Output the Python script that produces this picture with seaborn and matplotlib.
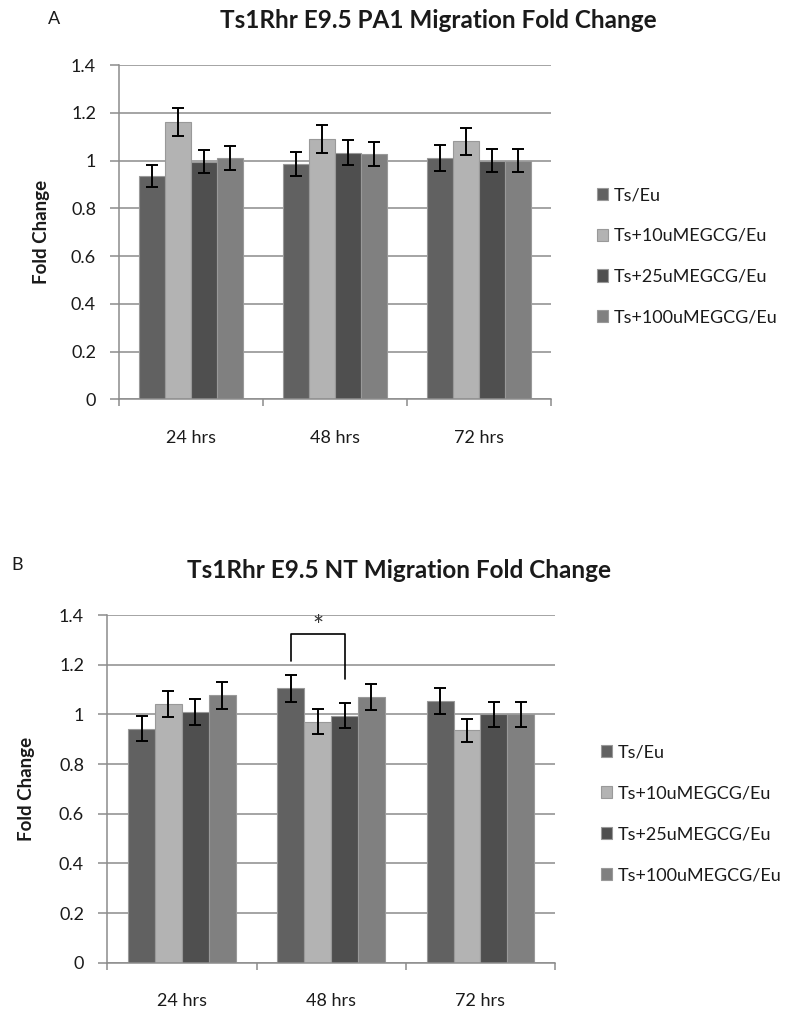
import matplotlib
matplotlib.use('Agg')
import matplotlib.pyplot as plt
import seaborn as sns
import pandas as pd
import numpy as np

# categories
timepoints = ['24 hrs', '48 hrs', '72 hrs']
treatments = ['Ts/Eu', 'Ts+10uMEGCG/Eu', 'Ts+25uMEGCG/Eu', 'Ts+100uMEGCG/Eu']
bar_colors = ['#616161', '#b3b3b3', '#4f4f4f', '#808080']

# panel A - PA1 migration (one list per treatment, values per timepoint)
pa1_ts = [0.935, 0.985, 1.01]
pa1_10 = [1.16, 1.09, 1.08]
pa1_25 = [0.995, 1.032, 1.0]
pa1_100 = [1.01, 1.027, 1.0]
pa1_err_ts = [0.046, 0.05, 0.053]
pa1_err_10 = [0.059, 0.057, 0.056]
pa1_err_25 = [0.049, 0.052, 0.048]
pa1_err_100 = [0.05, 0.052, 0.048]

# panel B - NT migration
nt_ts = [0.942, 1.105, 1.055]
nt_10 = [1.042, 0.971, 0.936]
nt_25 = [1.01, 0.995, 1.0]
nt_100 = [1.076, 1.069, 1.0]
nt_err_ts = [0.05, 0.054, 0.053]
nt_err_10 = [0.053, 0.049, 0.046]
nt_err_25 = [0.053, 0.05, 0.049]
nt_err_100 = [0.056, 0.052, 0.049]

# significance bracket (48 hrs, Ts/Eu vs Ts+25uMEGCG/Eu)
bracket_top = 1.322
bracket_left_end = 1.215
bracket_right_end = 1.143
star_y = 1.35

GRID = '#8c8c8c'
TXT = '#1a1a1a'

sns.set_style('white')
plt.rcParams['font.family'] = ['Lato', 'DejaVu Sans']


def draw_panel(ax, means, errs, leg_anchor):
    df = pd.DataFrame({
        'time': timepoints * len(treatments),
        'group': [g for g in treatments for _ in timepoints],
        'fold': [v for m in means for v in m],
    })
    sns.barplot(data=df, x='time', y='fold', hue='group', hue_order=treatments,
                order=timepoints, palette=bar_colors, errorbar=None,
                width=0.72, gap=0, edgecolor='#999999', linewidth=0.8,
                saturation=1, ax=ax)
    # error bars on the bar centres
    for cont, err in zip(ax.containers, errs):
        xs = [b.get_x() + b.get_width() / 2 for b in cont]
        ys = [b.get_height() for b in cont]
        ax.errorbar(xs, ys, yerr=err, fmt='none', ecolor='black',
                    elinewidth=1.4, capsize=4, capthick=1.4, zorder=5)

    ax.set_xlim(-0.5, 2.5)
    ax.set_ylim(0, 1.4)
    ax.set_yticks(np.arange(0, 1.41, 0.2))
    ax.set_yticklabels([f'{t:g}' for t in np.arange(0, 1.41, 0.2).round(1)])
    ax.grid(axis='y', color=GRID, lw=1.1)
    ax.set_axisbelow(True)
    for s in ['top', 'right']:
        ax.spines[s].set_visible(False)
    for s in ['left', 'bottom']:
        ax.spines[s].set_color(GRID)
        ax.spines[s].set_linewidth(1.1)
    ax.tick_params(axis='y', length=6.2, width=1.1, color=GRID,
                   labelsize=13, pad=10.5, labelcolor=TXT, left=True)
    ax.tick_params(axis='x', which='major', length=0, labelsize=13,
                   pad=22, labelcolor=TXT)
    ax.set_xticks([-0.5, 0.5, 1.5, 2.5], minor=True)
    ax.tick_params(axis='x', which='minor', length=4.8, width=1.1,
                   color=GRID, bottom=True)
    ax.set_xlabel('')
    ax.set_ylabel('Fold Change', fontsize=13.5, fontweight='bold', color=TXT)
    ax.yaxis.set_label_coords(-0.161, 0.5)

    handles, labels = ax.get_legend_handles_labels()
    ax.legend(handles, labels, loc='center left', bbox_to_anchor=leg_anchor,
              frameon=False, fontsize=13, handlelength=0.65, handleheight=0.65,
              handletextpad=0.3, labelspacing=1.38, borderpad=0,
              labelcolor=TXT)


fig = plt.figure(figsize=(7.91, 10.10), dpi=100)
W, H = 791, 1010
axA = fig.add_axes([119.3 / W, 1 - 399.3 / H, (551 - 119.3) / W, (399.3 - 65) / H])
axB = fig.add_axes([107.3 / W, 1 - 962.7 / H, (555 - 107.3) / W, (962.7 - 615) / H])

draw_panel(axA, [pa1_ts, pa1_10, pa1_25, pa1_100],
           [pa1_err_ts, pa1_err_10, pa1_err_25, pa1_err_100], (1.085, 0.4275))
draw_panel(axB, [nt_ts, nt_10, nt_25, nt_100],
           [nt_err_ts, nt_err_10, nt_err_25, nt_err_100], (1.082, 0.428))

# significance bracket from bar positions
b1 = axB.containers[0][1]
b3 = axB.containers[2][1]
x1 = b1.get_x() + b1.get_width() / 2
x3 = b3.get_x() + b3.get_width() / 2
axB.plot([x1, x1, x3, x3],
         [bracket_left_end, bracket_top, bracket_top, bracket_right_end],
         color='black', lw=1.2, zorder=6)
axB.text((x1 + x3) / 2, star_y, '*', ha='center', va='center',
         fontsize=19, color='#333333')

# titles and panel letters
fig.text(438.5 / W, 1 - 21 / H, 'Ts1Rhr E9.5 PA1 Migration Fold Change',
         ha='center', va='center', fontsize=17.5, fontweight='bold', color=TXT)
fig.text(399 / W, 1 - 570 / H, 'Ts1Rhr E9.5 NT Migration Fold Change',
         ha='center', va='center', fontsize=17.5, fontweight='bold', color=TXT)
fig.text(54 / W, 1 - 19 / H, 'A', ha='center', va='center', fontsize=13, color=TXT)
fig.text(17.5 / W, 1 - 565 / H, 'B', ha='center', va='center', fontsize=13, color=TXT)

fig.savefig('out.png', dpi=100)
